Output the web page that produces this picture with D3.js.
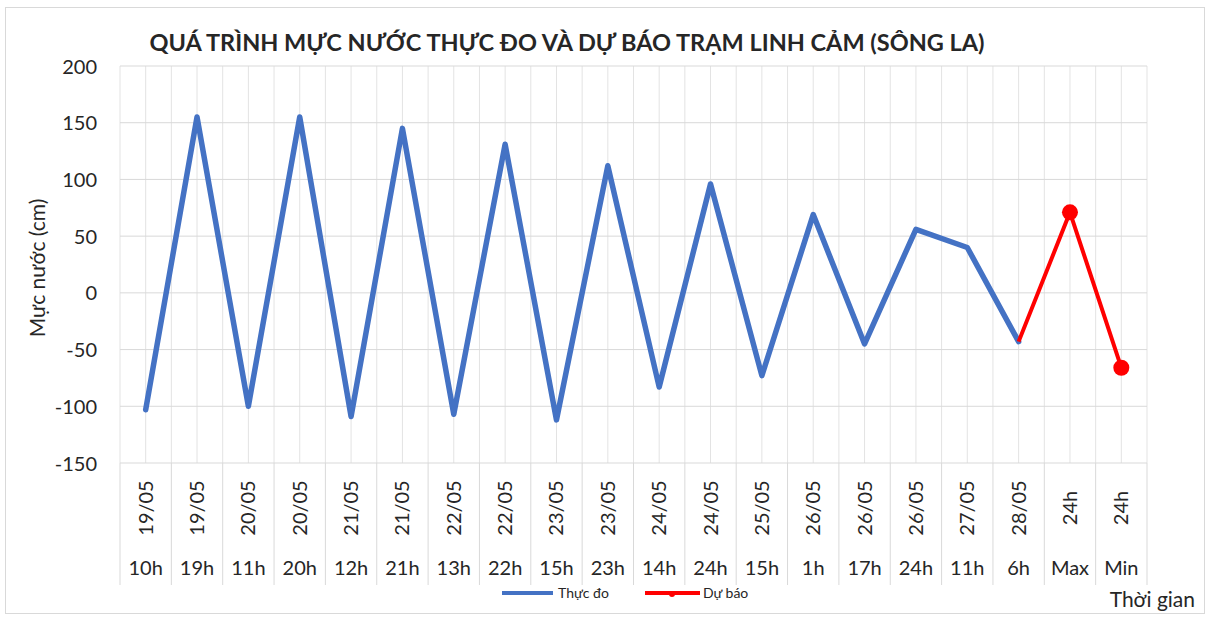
<!DOCTYPE html>
<html>
<head>
<meta charset="utf-8">
<script src="https://cdn.jsdelivr.net/npm/d3@7"></script>
<style>
  html, body { margin: 0; padding: 0; background: #fff; }
  svg { display: block; }
  text { font-family: Lato, "Open Sans", sans-serif; fill: #262626; }
</style>
</head>
<body>
<svg id="chart" width="1216" height="619"></svg>
<script>
// ---- Data ----
const dateLabels = ["19/05","19/05","20/05","20/05","21/05","21/05","22/05","22/05","23/05","23/05",
                    "24/05","24/05","25/05","26/05","26/05","26/05","27/05","28/05","24h","24h"];
const hourLabels = ["10h","19h","11h","20h","12h","21h","13h","22h","15h","23h",
                    "14h","24h","15h","1h","17h","24h","11h","6h","Max","Min"];
const observed = [-103,155,-100,155,-109,145,-107,131,-112,112,-83,96,-73,69,-45,56,40,-43,null,null];
const forecast = [null,null,null,null,null,null,null,null,null,null,null,null,null,null,null,null,null,-43,71,-66];
const forecastMarkers = [false,false,false,false,false,false,false,false,false,false,false,false,false,false,false,false,false,false,true,true];
const yTicks = [-150,-100,-50,0,50,100,150,200];
const titleText = "QUÁ TRÌNH MỰC NƯỚC THỰC ĐO VÀ DỰ BÁO TRẠM LINH CẢM (SÔNG LA)";
const yTitle = "Mực nước (cm)";
const xTitle = "Thời gian";
const seriesNames = ["Thực đo", "Dự báo"];

// ---- Layout ----
const svg = d3.select("#chart");
const L = 120, R = 1147, T = 66, B = 463;
const idx = d3.range(dateLabels.length);
const x = d3.scaleBand().domain(idx).range([L, R]).paddingInner(0).paddingOuter(0);
const bw = x.bandwidth();
const cx = i => x(i) + bw / 2;
const y = d3.scaleLinear().domain([-150, 200]).range([B, T]);

// outer border
svg.append("rect").attr("x", 5.5).attr("y", 7.5).attr("width", 1199).attr("height", 606)
  .attr("fill", "none").attr("stroke", "#d9d9d9");

const grid = svg.append("g");
// vertical gridlines at boundaries and centres
const vLines = [];
idx.forEach(i => { vLines.push(x(i)); vLines.push(cx(i)); });
vLines.push(R);
grid.selectAll("line.v").data(vLines).join("line")
  .attr("x1", d => d).attr("x2", d => d).attr("y1", T).attr("y2", B)
  .attr("stroke", "#e3e3e3").attr("stroke-width", 1);
// horizontal gridlines
grid.selectAll("line.h").data(yTicks).join("line")
  .attr("x1", L).attr("x2", R).attr("y1", d => y(d)).attr("y2", d => y(d))
  .attr("stroke", "#d9d9d9").attr("stroke-width", 1);

// category table separators below
const sepX = idx.map(i => x(i)).concat([R]);
svg.append("g").selectAll("line").data(sepX).join("line")
  .attr("x1", d => d).attr("x2", d => d).attr("y1", B).attr("y2", 585)
  .attr("stroke", "#d9d9d9").attr("stroke-width", 1);

// y-axis using d3 axis
const yAxis = d3.axisLeft(y).tickValues(yTicks).tickSize(0).tickPadding(0).tickFormat(d => String(d));
const yg = svg.append("g").attr("transform", `translate(97,0)`).call(yAxis);
yg.select(".domain").remove();
yg.selectAll("text").style("font-size", "20px").style("font-family", "Lato, sans-serif")
  .attr("fill", "#404040").attr("dy", "0.35em");

// category labels
const cat = svg.append("g");
cat.selectAll("text.date").data(idx).join("text")
  .attr("class", "date")
  .attr("transform", i => `translate(${cx(i) + 7},508) rotate(-90)`)
  .attr("text-anchor", "middle")
  .style("font-size", "20px").attr("fill", "#404040")
  .text(i => dateLabels[i]);
cat.selectAll("text.hour").data(idx).join("text")
  .attr("class", "hour")
  .attr("x", i => cx(i)).attr("y", 575)
  .attr("text-anchor", "middle")
  .style("font-size", "20px").attr("fill", "#404040")
  .text(i => hourLabels[i]);

// lines
const line = d3.line().defined(d => d.v !== null).x(d => cx(d.i)).y(d => y(d.v));
svg.append("path")
  .datum(observed.map((v, i) => ({ i, v })))
  .attr("d", line).attr("fill", "none")
  .attr("stroke", "#4472C4").attr("stroke-width", 5.5)
  .attr("stroke-linejoin", "round").attr("stroke-linecap", "round");
svg.append("path")
  .datum(forecast.map((v, i) => ({ i, v })))
  .attr("d", line).attr("fill", "none")
  .attr("stroke", "#FF0000").attr("stroke-width", 4)
  .attr("stroke-linejoin", "round");
svg.append("g").selectAll("circle")
  .data(forecast.map((v, i) => ({ i, v })).filter(d => d.v !== null && forecastMarkers[d.i]))
  .join("circle")
  .attr("cx", d => cx(d.i)).attr("cy", d => y(d.v)).attr("r", 8)
  .attr("fill", "#FF0000");

// title
svg.append("text").attr("x", 567).attr("y", 51).attr("text-anchor", "middle")
  .style("font-size", "23.5px").style("font-weight", "bold").attr("fill", "#1a1a1a")
  .text(titleText);

// y title
svg.append("text").attr("transform", "translate(45,268) rotate(-90)")
  .attr("text-anchor", "middle").style("font-size", "21px").attr("fill", "#262626")
  .text(yTitle);

// x title
svg.append("text").attr("x", 1195).attr("y", 607).attr("text-anchor", "end")
  .style("font-size", "21px").attr("fill", "#262626").text(xTitle);

// legend
const lg = svg.append("g");
lg.append("line").attr("x1", 502).attr("x2", 553).attr("y1", 593).attr("y2", 593)
  .attr("stroke", "#4472C4").attr("stroke-width", 4);
lg.append("text").attr("x", 558).attr("y", 598).style("font-size", "14px").attr("fill", "#404040").text(seriesNames[0]);
lg.append("line").attr("x1", 645).attr("x2", 700).attr("y1", 593).attr("y2", 593)
  .attr("stroke", "#FF0000").attr("stroke-width", 4);
lg.append("circle").attr("cx", 672).attr("cy", 594).attr("r", 3).attr("fill", "#FF0000");
lg.append("text").attr("x", 703).attr("y", 598).style("font-size", "14px").attr("fill", "#404040").text(seriesNames[1]);
</script>
</body>
</html>
